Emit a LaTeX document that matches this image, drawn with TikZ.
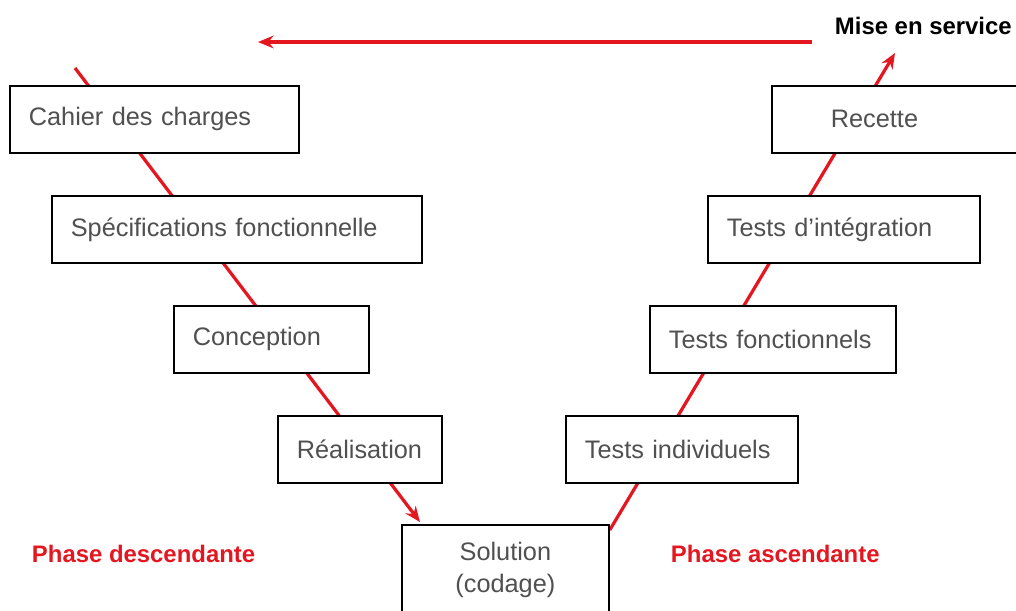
\documentclass[tikz,border=0pt]{standalone}
\usepackage{fontspec}
\setmainfont{Liberation Sans}
\usetikzlibrary{arrows.meta,backgrounds,calc}
\definecolor{rouge}{RGB}{228,22,32}
\definecolor{gristexte}{RGB}{80,80,80}
\tikzset{
  etape/.style={draw, line width=1.2pt, fill=white, anchor=north west, minimum height=1.675cm,
    inner xsep=0.475cm, align=left, text=gristexte, font=\fontsize{18}{22.5}\selectfont},
  fleche/.style={draw=rouge, line width=2.3pt, -{Stealth[length=11pt,width=9pt]}},
  phase/.style={anchor=base west, text=rouge, font=\bfseries\fontsize{17}{20}\selectfont}
}

\begin{document}
\begin{tikzpicture}[x=0.025cm, y=-0.025cm]
  \useasboundingbox (0,0) rectangle (1016,610);
  % phase descendante
  \node[etape, text width=6.275cm] (cdc) at (9,85) {Cahier des charges};
  \node[etape, text width=8.3cm] (spec) at (51,195) {Spécifications fonctionnelle};
  \node[etape, text width=3.925cm] (concep) at (173,305) {Conception};
  \node[etape, text width=3.15cm] (real) at (277,415) {Réalisation};
  \node[etape, text width=4.225cm, align=center, minimum height=2.25cm] (sol) at (401,524) {Solution\\(codage)};
  % phase ascendante
  \node[etape, text width=4.85cm] (tind) at (565,415) {Tests individuels};
  \node[etape, text width=5.2cm] (tfonc) at (649,305) {Tests fonctionnels};
  \node[etape, text width=5.85cm] (tint) at (707,195) {Tests d'intégration};
  \node[etape, text width=3.3cm, inner xsep=1.475cm] (recette) at (771,85) {Recette};

  \node[anchor=base west, font=\bfseries\fontsize{17}{20}\selectfont] (mise) at (830,35) {Mise en service};
  \node[phase] (pdesc) at (27,562) {Phase descendante};
  \node[phase] (pasc) at (666,562) {Phase ascendante};

  \coordinate (debut) at (75,68);
  \coordinate (finmontee) at (895,53);
  \coordinate (retourdebut) at (812,42);
  \coordinate (retourfin) at (258,42);

  \begin{scope}[on background layer]
    \draw[fleche] (debut) -- ($(sol.north west)+(19,-2)$);
    \draw[fleche] ($(sol.north east)+(0,6)$) -- (finmontee);
  \end{scope}
  \draw[fleche] (retourdebut) -- (retourfin);
\end{tikzpicture}
\end{document}
